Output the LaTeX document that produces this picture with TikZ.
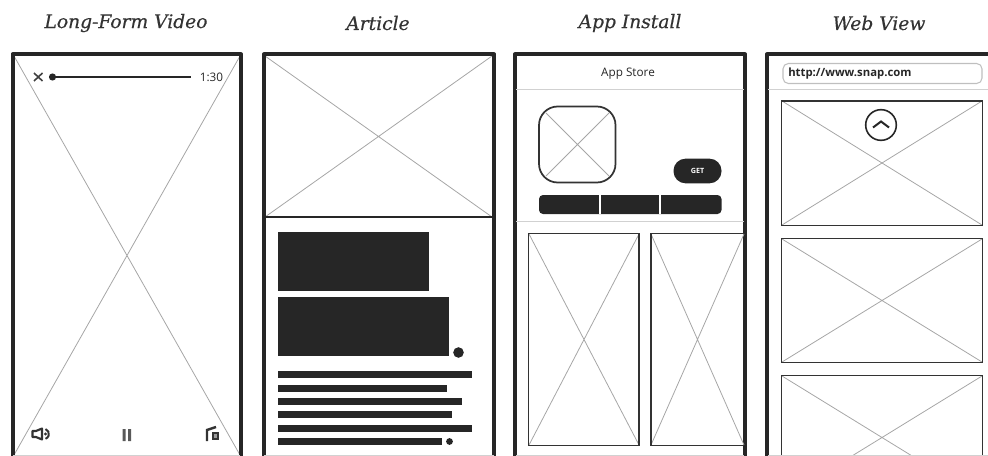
\documentclass[tikz,border=0pt]{standalone}
\usepackage{fontspec}
\setmainfont{DejaVu Serif}
\setsansfont{Open Sans}
\newcommand\crossed[4]{% x1,y1,x2,y2
  \draw[crossline] (#1,#2) -- (#3,#4) (#1,#4) -- (#3,#2);
}
\tikzset{
  title/.style={font=\itshape\addfontfeature{FakeBold=0.5}\fontsize{14pt}{15pt}\selectfont, text=black!80, inner sep=0pt},
  label/.style={font=\sffamily\fontsize{8.8pt}{9pt}\selectfont, text=black!85, inner sep=0pt},
  phone/.style={draw=black!85, line width=3pt, line join=round},
  crossline/.style={draw=black!35, line width=0.6pt},
  panel/.style={draw=black!80, line width=1.1pt},
  divider/.style={draw=black!18, line width=1pt},
  inkfill/.style={fill=black!85, draw=none}
}
\begin{document}
\begin{tikzpicture}[x=0.75pt,y=-0.75pt]
  \useasboundingbox (0,0) rectangle (988,456);

  \node[title] (title1) at (126,23) {Long-Form Video};
  \node[title] (title2) at (378,23) {Article};
  \node[title] (title3) at (630,23) {App Install};
  \node[title] (title4) at (879,23) {Web View};

  %% video
  \crossed{14}{56}{240}{455}
  \draw[phone] (12.5,458) -- (12.5,54.5) -- (241,54.5) -- (241,458);
  \draw[divider] (13,455.5) -- (240,455.5);
  \draw[black!75, line width=1.2pt] (34,73) -- (42.5,81) (42.5,73) -- (34,81);
  \fill[black!85] (52.5,77) circle (3.6);
  \draw[black!85, line width=1.3pt] (52,77) -- (191,77);
  \node[label] (timer) at (211.5,77.5) {1:30};
  % sound
  \draw[black!80, line width=1.6pt, line join=round] (32.5,431) -- (36,431) -- (42,428.5) -- (42,439.5) -- (36,437) -- (32.5,437) -- cycle;
  \draw[black!80, line width=1.5pt] (45.5,429) arc (-70:70:5.2);
  \fill[black!80] (45.5,434) circle (1.6);
  % pause
  \fill[black!65] (122.5,429) rectangle (125.5,441) (128,429) rectangle (131,441);
  % share
  \draw[black!80, line width=1.8pt] (207,441) -- (207,430) -- (216,427);
  \draw[black!80, line width=1.5pt, fill=black!40] (212.5,433) rectangle (218,439);

  %% article
  \crossed{265}{56}{492}{217}
  \draw[phone] (264,458) -- (264,54.5) -- (494,54.5) -- (494,458);
  \draw[black!85, line width=1.3pt] (264,217) -- (494,217);
  \draw[divider] (264,455.5) -- (494,455.5);
  \fill[inkfill] (278,232) rectangle (429,291);
  \fill[inkfill] (278,297) rectangle (449,356);
  \fill[inkfill] (458.5,352.5) circle (5.3);
  \foreach \ytop/\xend in {371/472, 384.5/447, 398/462, 411/452, 424.5/472, 438/442}
    \fill[inkfill] (278,\ytop) rectangle (\xend,\ytop+7);
  \fill[inkfill] (449.5,441.5) circle (3.4);

  %% app
  \draw[phone] (515,458) -- (515,54.5) -- (745,54.5) -- (745,458);
  \node[label] (appstore) at (628,74) {App Store};
  \draw[divider] (516,89.5) -- (744,89.5);
  \draw[divider] (516,221.5) -- (744,221.5);
  \draw[divider] (516,455.5) -- (744,455.5);
  \crossed{546}{113}{609}{176}
  \draw[panel, line width=1.3pt, rounded corners=14] (539,106.5) rectangle (615.5,182.5);
  \node[inkfill, rounded corners=9, minimum width=36pt, minimum height=18.5pt, inner sep=0pt, font=\sffamily\bfseries\fontsize{5.4pt}{6pt}\selectfont, text=white] (get) at (697.5,171) {GET};
  \fill[inkfill, rounded corners=3] (539,195) rectangle (721.5,214);
  \draw[white, line width=1.3pt] (599.7,195) -- (599.7,214) (660.2,195) -- (660.2,214);
  \crossed{529}{234}{639}{445}
  \draw[panel] (528.5,233.5) rectangle (639,445.5);
  \crossed{651}{234}{744}{445}
  \draw[panel] (744,233.5) -- (651,233.5) -- (651,445.5) -- (744,445.5);

  %% web
  \draw[phone] (767,458) -- (767,54.5) -- (990,54.5);
  \draw[draw=black!25, line width=0.8pt, rounded corners=4] (783,63.5) rectangle (982,83.5);
  \node[label, font=\sffamily\bfseries\fontsize{8.5pt}{9pt}\selectfont, anchor=west] (url) at (788,73.5) {http://www.snap.com};
  \draw[divider] (768,89.5) -- (988,89.5);
  \crossed{782}{101}{982}{225}
  \draw[panel] (781.5,101) rectangle (982.5,225.5);
  \node[draw=black!85, line width=1.2pt, circle, minimum size=23pt, inner sep=0pt, fill=white] (upbtn) at (881,125) {};
  \draw[black!85, line width=1.5pt] (873,127.5) -- (881,121.5) -- (889,127.5);
  \crossed{782}{239}{982}{362}
  \draw[panel] (781.5,238.5) rectangle (982.5,362.5);
  \crossed{782}{376}{982}{499}
  \draw[panel] (781.5,456) -- (781.5,375.5) -- (982.5,375.5) -- (982.5,456);
  \draw[divider] (768,455.5) -- (988,455.5);
\end{tikzpicture}
\end{document}
